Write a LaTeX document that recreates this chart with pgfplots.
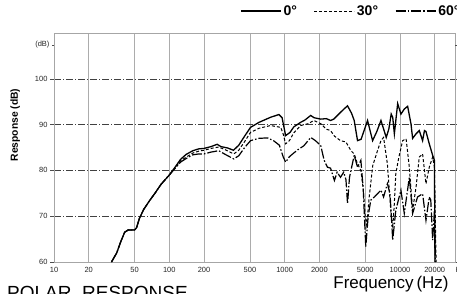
\documentclass[border=0pt]{standalone}
\usepackage{pgfplots}
\pgfplotsset{compat=1.18}
\usepackage{fontspec}
\setmainfont{Liberation Sans}
\begin{document}
\begin{tikzpicture}
\begin{axis}[
  scale only axis, width=401pt, height=229pt,
  xmode=log, xmin=10, xmax=30000, ymin=60, ymax=110,
  xtick={10,20,50,100,200,500,1000,2000,5000,10000,20000},
  xticklabels={10,20,50,100,200,500,1000,2000,5000,10000,20000},
  ytick={60,70,80,90,100},
  xminorticks=false, yminorticks=false,
  xmajorgrids, ymajorgrids,
  x grid style={gray!65, line width=0.5pt},
  y grid style={black!75, line width=0.5pt, dash pattern=on 7pt off 2pt on 1pt off 2pt},
  axis line style={gray!70, line width=0.5pt},
  xtick style={draw=none},
  ytick style={black!70, line width=0.4pt},
  tick align=outside, major tick length=4pt,
  tick label style={font=\fontsize{7.5}{8}\selectfont, text=black!85},
  /pgf/number format/assume math mode=true,
  xticklabel style={yshift=2.5pt},
  yticklabel style={xshift=1pt},
  extra y ticks={107.4}, extra y tick labels={(dB)},
  extra y tick style={grid=none, major tick length=2pt},
  extra x ticks={30000}, extra x tick labels={Hz},
  extra x tick style={grid=none, xticklabel style={anchor=north west, xshift=-3pt}},
  ylabel={Response (dB)},
  ylabel style={at={(axis description cs:-0.097,0.598)}, anchor=center, font=\bfseries\fontsize{10.3}{11}\selectfont},
  legend style={at={(0.464,1.096)}, anchor=west, draw=none, fill=none, legend columns=3,
    font=\bfseries\fontsize{14}{14}\selectfont, inner sep=0pt,
    /tikz/every even column/.append style={column sep=15pt}},
  legend image code/.code={\draw[#1] (0pt,0pt) -- (40pt,0pt);},
  clip=true,
]
\addplot[black, line width=1.3pt] coordinates {
(31.5,60)(35,62)(38,64.5)(41,66.5)(44,67)(50,67)(52,67.5)(55,69.5)(60,71.5)(67,73.3)(75,75)(85,77)(100,79)(110,80.4)(125,82.4)(140,83.5)(160,84.3)(180,84.7)(200,84.8)(230,85.2)(260,85.7)(280,85.2)(320,84.9)(360,84.4)(400,85.5)(450,87.5)(506,89.4)(600,90.5)(755,91.6)(892,92.2)(950,91.5)(1020,87.6)(1114,88.3)(1200,89.5)(1377,90.5)(1500,91)(1683,92)(1800,91.5)(2056,91.2)(2300,91.3)(2500,90.9)(2667,91.2)(3000,92.5)(3300,93.5)(3509,94.1)(3800,92.5)(4010,90.9)(4285,86.5)(4600,86.8)(5234,90.9)(5790,86.5)(6300,88.5)(6840,90.9)(7600,87.2)(8000,89)(8390,92.3)(8650,91.6)(8940,88)(9550,94.6)(10190,92.3)(10900,93.4)(11650,94)(12450,90.2)(12870,87)(13790,88)(14700,88.7)(15710,86.5)(16300,88.7)(16800,88.5)(17950,85.8)(19200,83.3)(19900,82.2)(20100,61)(20150,60)
};
\addlegendentry{0°}
\addplot[black, line width=1pt, dash pattern=on 3pt off 2pt] coordinates {
(31.5,60)(35,62)(38,64.5)(41,66.5)(44,67)(50,67)(52,67.5)(55,69.5)(60,71.5)(67,73.3)(75,75)(85,77)(100,79)(110,80.3)(125,82.1)(140,82.9)(160,83.8)(180,84.2)(200,84.4)(230,84.8)(268,85.1)(300,84.6)(362,83.6)(400,84.4)(450,86.3)(506,88.3)(600,89.2)(755,89.8)(925,89.4)(970,88)(1020,85.8)(1100,86.5)(1200,88.2)(1377,89.8)(1600,90.2)(1790,90.9)(2056,90.2)(2300,89)(2500,88.7)(2700,87.5)(3050,86.5)(3400,86.2)(3760,84.3)(4010,83.6)(4285,81.4)(4580,80)(4800,76)(5000,70)(5150,68)(5400,74)(5800,81)(6380,84.3)(6840,86.5)(7210,87.2)(7780,81.4)(8390,70)(8650,67.5)(8900,72)(9200,79.3)(9800,83)(10550,86.5)(11300,86.9)(12050,80.7)(12870,71.3)(13790,76.4)(14700,82.9)(15710,83.6)(16800,77.1)(17950,80.7)(19200,82.9)(19900,80.7)(20400,64.8)(20600,60)
};
\addlegendentry{30°}
\addplot[black, line width=1.2pt, dash pattern=on 10pt off 2pt on 1.5pt off 2pt] coordinates {
(31.5,60)(35,62)(38,64.5)(41,66.5)(44,67)(50,67)(52,67.5)(55,69.5)(60,71.5)(67,73.3)(75,75)(85,77)(100,79)(110,80.2)(125,81.8)(140,82.6)(160,83.4)(180,83.6)(200,83.6)(230,84)(268,84.3)(300,83.6)(362,82.5)(400,83.2)(450,85)(506,86.5)(600,87)(710,87.1)(800,86.5)(900,85.5)(970,83)(1020,81.8)(1100,83)(1200,83.8)(1300,84.5)(1470,85.4)(1683,87.2)(1850,86.5)(2056,85.4)(2200,82.2)(2350,80.7)(2500,80.5)(2700,77.8)(2850,79.6)(3050,78.5)(3250,79.6)(3400,78)(3510,72.7)(3650,78.5)(4010,83.3)(4285,80.7)(4580,82.2)(4800,76)(5050,63.3)(5300,70)(5580,73.5)(6000,74.2)(6380,74.9)(6840,75.7)(7210,74.2)(7780,77.1)(8200,74.9)(8650,64.8)(9200,71.3)(10190,75.7)(10900,70.6)(12050,78.5)(12870,70.6)(14200,74.2)(15710,74.9)(16800,69.1)(17950,74.2)(18500,73.5)(19200,64.8)(19900,71.3)(20300,60)
};
\addlegendentry{60°}
\coordinate (O) at (rel axis cs:0,0);
\end{axis}
\node[anchor=center, font=\fontsize{17}{18}\selectfont, inner sep=0pt] at ([shift={(337pt,-22.5pt)}]O) {Frequency\,(Hz)};
\node[anchor=base west, font=\fontsize{19}{19}\selectfont, inner sep=0pt] at ([shift={(-47pt,-37pt)}]O) {POLAR\ \ RESPONSE};
\pgfresetboundingbox
\path[use as bounding box] ([shift={(-54pt,-31pt)}]O) rectangle ([shift={(403pt,262pt)}]O);
\end{tikzpicture}
\end{document}
